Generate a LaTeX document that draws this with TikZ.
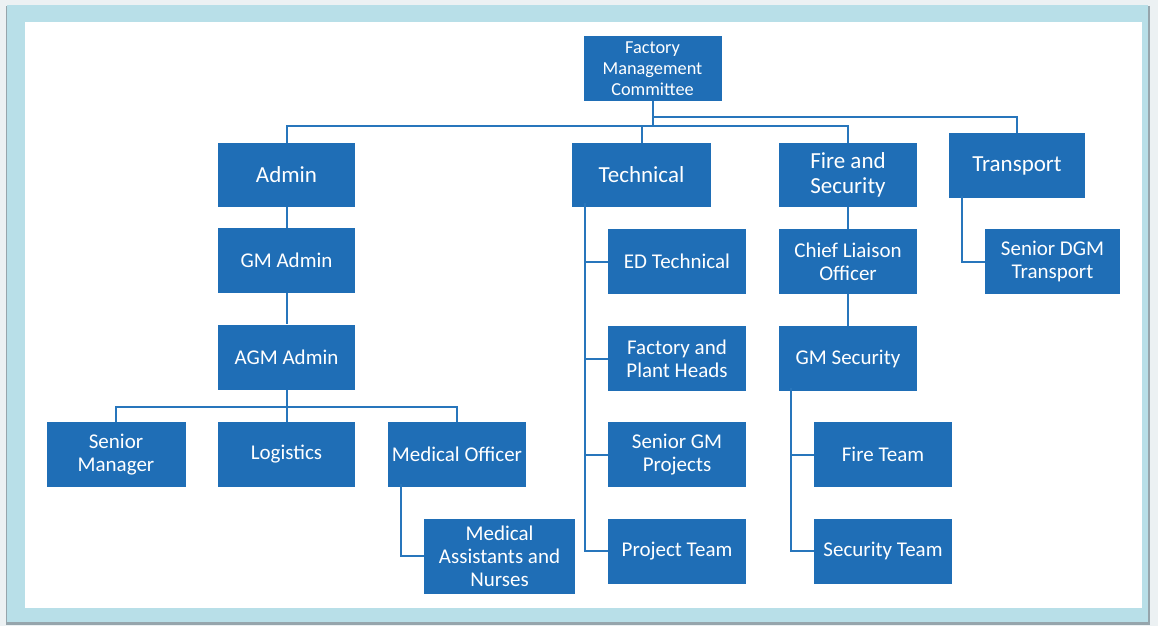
\documentclass[tikz,border=0pt]{standalone}
\usepackage{fontspec}
\setmainfont{Carlito}
\definecolor{boxblue}{RGB}{31,110,182}
\definecolor{lineblue}{RGB}{40,118,188}
\definecolor{framecyan}{RGB}{184,223,232}
\definecolor{pagegray}{RGB}{236,241,243}
\definecolor{shadowgray}{RGB}{150,165,172}
\begin{document}
\begin{tikzpicture}[x=1pt,y=-1pt,
  unit/.style={draw=none,fill=boxblue,text=white,align=center,
    minimum width=138,minimum height=65,inner sep=2,
    font=\fontsize{21}{23}\selectfont},
  headunit/.style={unit,font=\fontsize{23}{25}\selectfont,minimum height=64},
  topunit/.style={unit,font=\fontsize{18.3}{21}\selectfont},
  conn/.style={draw=lineblue,line width=2}]
\useasboundingbox (0,0) rectangle (1158,626);
% frame
\fill[pagegray] (0,0) rectangle (1158,626);
\fill[shadowgray] (6,6) rectangle (1150,625);
\fill[framecyan] (7,5) rectangle (1148,622);
\fill[white] (25,22) rectangle (1142,608);

% top level
\node[topunit] (fmc) at (652.5,68.5) {Factory\\Management\\Committee};
\node[headunit,minimum width=137] (admin) at (286.5,175) {Admin};
\node[headunit,minimum width=139] (tech) at (641.5,175) {Technical};
\node[headunit] (fire) at (848,175) {Fire and\\Security};
\node[headunit,minimum width=136,minimum height=65] (trans) at (1017,165.5) {Transport};

% admin branch
\node[unit,minimum width=137] (gmadmin) at (286.5,260.5) {GM Admin};
\node[unit,minimum width=137] (agm) at (286.5,357) {AGM Admin};
\node[unit,minimum width=139] (senmgr) at (116,454.5) {Senior\\Manager};
\node[unit,minimum width=137] (logis) at (286.5,454.5) {Logistics};
\node[unit,inner sep=0] (medoff) at (457,454.5) {Medical Officer};
\node[unit,minimum width=151,minimum height=75] (medasst) at (499.5,556) {Medical\\Assistants and\\Nurses};

% technical branch
\node[unit] (edtech) at (677,261.5) {ED Technical};
\node[unit] (fph) at (677,358.5) {Factory and\\Plant Heads};
\node[unit] (sgmp) at (677,454.5) {Senior GM\\Projects};
\node[unit] (pteam) at (677,551) {Project Team};

% fire and security branch
\node[unit] (chief) at (848,261.5) {Chief Liaison\\Officer};
\node[unit] (gmsec) at (848,358.5) {GM Security};
\node[unit] (fteam) at (883,454.5) {Fire Team};
\node[unit] (steam) at (883,551) {Security Team};

% transport branch
\node[unit,minimum width=135] (sdgm) at (1052.5,261.5) {Senior DGM\\Transport};

% bus lines and spines
\coordinate (busA) at (0,126);
\coordinate (busB) at (0,117);
\coordinate (busC) at (0,407);
\coordinate (techspine) at (585,0);
\coordinate (secspine) at (791,0);
\coordinate (medspine) at (401,0);
\coordinate (transspine) at (962,0);

% connectors from the committee
\draw[conn] (fmc.south) -- (fmc.south |- busA);
\draw[conn] (admin.north) -- (admin.north |- busA) -- (fire.north |- busA) -- (fire.north);
\draw[conn] (tech.north) -- (tech.north |- busA);
\draw[conn] (fmc.south |- busB) -- (trans.north |- busB) -- (trans.north);

% admin connectors
\draw[conn] (admin.south) -- (gmadmin.north);
\draw[conn] (gmadmin.south) -- (agm.north);
\draw[conn] (agm.south) -- (agm.south |- busC);
\draw[conn] (senmgr.north) -- (senmgr.north |- busC) -- (medoff.north |- busC) -- (medoff.north);
\draw[conn] (logis.north) -- (logis.north |- busC);
\draw[conn] ([yshift=3]medoff.south -| medspine) -- (medasst.west -| medspine) -- (medasst.west);

% technical connectors
\draw[conn] ([yshift=4]tech.south -| techspine) -- (pteam.west -| techspine) -- (pteam.west);
\draw[conn] (edtech.west -| techspine) -- (edtech.west);
\draw[conn] (fph.west -| techspine) -- (fph.west);
\draw[conn] (sgmp.west -| techspine) -- (sgmp.west);

% fire and security connectors
\draw[conn] (fire.south) -- (chief.north);
\draw[conn] (chief.south) -- (gmsec.north);
\draw[conn] ([yshift=3]gmsec.south -| secspine) -- (steam.west -| secspine) -- (steam.west);
\draw[conn] (fteam.west -| secspine) -- (fteam.west);

% transport connector
\draw[conn] ([yshift=2]trans.south -| transspine) -- (sdgm.west -| transspine) -- (sdgm.west);
\end{tikzpicture}
\end{document}
